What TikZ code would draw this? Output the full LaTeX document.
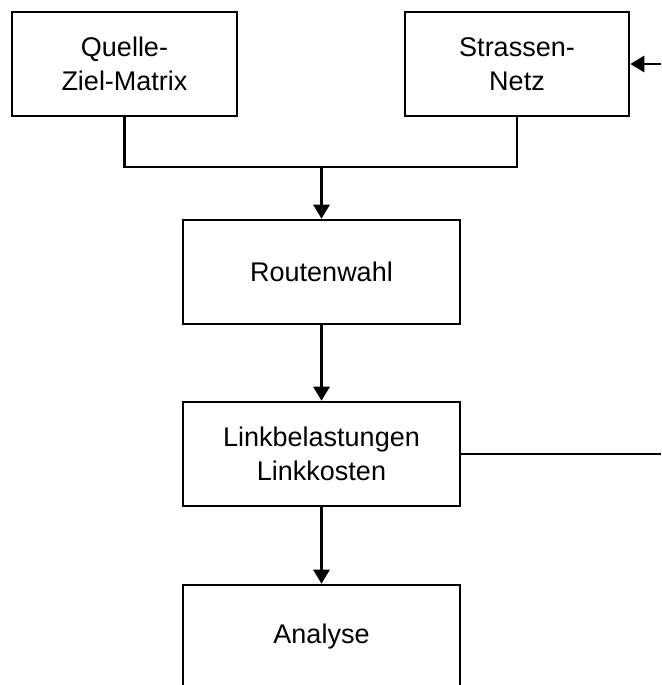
\documentclass[tikz,border=0pt]{standalone}
\usepackage{fontspec}
\setmainfont{Liberation Sans}
\usetikzlibrary{arrows.meta}
\tikzset{
  block/.style={draw, line width=2.6pt, minimum height=104pt, align=center,
    font=\fontsize{27}{34}\selectfont},
  link/.style={line width=2.8pt},
  flow/.style={line width=2.8pt, -{Triangle[length=14pt,width=16pt]}}
}
\begin{document}
\begin{tikzpicture}[x=1pt,y=1pt]
            \useasboundingbox (0,0) rectangle (661,-685);

            \node[block, minimum width=225pt] (QZ) at (124.5,-64) {Quelle-\\Ziel-Matrix};
            \node[block, minimum width=224pt] (SN) at (517,-64) {Strassen-\\Netz};

            \node[block, minimum width=277pt] (RW) at (321.5,-272) {Routenwahl};
            \node[block, minimum width=277pt] (LB) at (321.5,-454) {Linkbelastungen\\Linkkosten};
            \node[block, minimum width=277pt] (AN) at (321.5,-637) {Analyse};

            \coordinate (J) at (321.5,-167);
            \coordinate (IN) at (661,-64);
            \coordinate (OUT) at (661,-454);

            \draw[link] (QZ.south) |- (J) -| (SN.south);
            \draw[flow] (J) -- (RW.north);
            \draw[flow] (RW) -- (LB);
            \draw[flow] (LB) -- (AN);

            \draw[flow] (IN) -- (SN.east);
            \draw[link] (LB.east) -- (OUT);
        \end{tikzpicture}
\end{document}
